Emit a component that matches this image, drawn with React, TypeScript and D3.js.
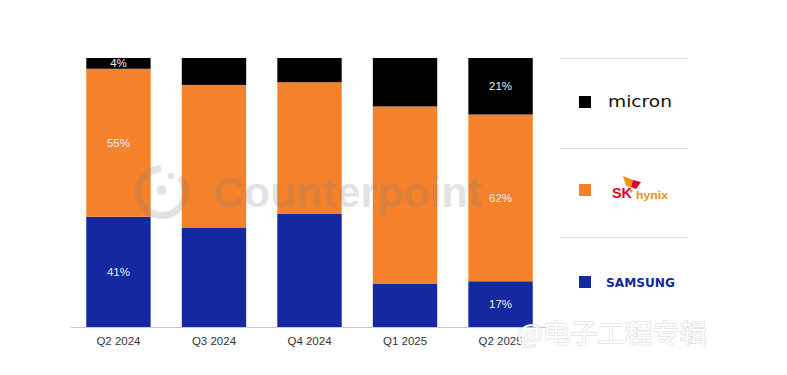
import React from "react";
import * as d3 from "d3";

const categories = ["Q2 2024", "Q3 2024", "Q4 2024", "Q1 2025", "Q2 2025"];
const samsung = [41, 37, 42, 16, 17];
const skHynix = [55, 53, 49, 66, 62];
const micron = [4, 10, 9, 18, 21];
const seriesKeys = ["samsung", "skHynix", "micron"];
const seriesColors = ["#1428A0", "#F5822A", "#000000"];
// which segment labels are shown: [categoryIndex, seriesKey]
const shownLabels: [number, string][] = [
  [0, "samsung"], [0, "skHynix"], [0, "micron"],
  [4, "samsung"], [4, "skHynix"], [4, "micron"],
];

const W = 787, H = 375;

export default function App() {
  const rows = categories.map((c, i) => ({
    cat: c, samsung: samsung[i], skHynix: skHynix[i], micron: micron[i],
  }));
  const stack = d3.stack<any>().keys(seriesKeys)(rows);
  const x = d3.scaleBand().domain(categories).range([70.5, 548.5]).paddingInner(0.326).paddingOuter(0.165);
  const y = d3.scaleLinear().domain([0, 100]).range([327, 58]);
  const font = "'Liberation Sans', Arial, sans-serif";

  const arc = d3.arc()({ innerRadius: 20, outerRadius: 27, startAngle: Math.PI * 0.28, endAngle: Math.PI * 2 - 0.05 } as any) || "";

  return (
    <svg width={W} height={H} style={{ position: "absolute", left: 0, top: 0, background: "#fff" }}>
      <rect width={W} height={H} fill="#fff" />
      {stack.map((s, si) => (
        <g key={s.key} fill={seriesColors[si]}>
          {s.map((d, i) => (
            <rect key={i} x={x(categories[i])} width={x.bandwidth()} y={y(d[1])} height={y(d[0]) - y(d[1])} />
          ))}
        </g>
      ))}
      {shownLabels.map(([ci, key], k) => {
        const si = seriesKeys.indexOf(key);
        const d = stack[si][ci];
        return (
          <text key={k} x={(x(categories[ci]) as number) + x.bandwidth() / 2} y={(y(d[0]) + y(d[1])) / 2 + 4}
            textAnchor="middle" fill="#f0f0f0" fontFamily={font} fontSize={11.5}>
            {`${d[1] - d[0]}%`}
          </text>
        );
      })}
      <line x1={70.5} x2={548} y1={327.5} y2={327.5} stroke="#c8c8c8" strokeWidth={1} />
      {categories.map((c) => (
        <text key={c} x={(x(c) as number) + x.bandwidth() / 2} y={345} textAnchor="middle" fill="#333"
          fontFamily={font} fontSize={11.5}>{c}</text>
      ))}

      {/* Watermark */}
      <g fill="#808080" opacity={0.22}>
        <path d={arc} transform="translate(162,192)" />
        <circle cx={161.5} cy={190} r={4.8} />
        <circle cx={171} cy={176} r={3.5} />
        <text x={213} y={207} fontFamily={font} fontWeight="bold" fontSize={42} textLength={269} lengthAdjust="spacingAndGlyphs">Counterpoint</text>
      </g>

      {/* Legend */}
      {[58.5, 148.5, 237.5].map((ly) => (
        <line key={ly} x1={560} x2={688} y1={ly} y2={ly} stroke="#dedede" strokeWidth={1} />
      ))}
      <rect x={579} y={96} width={12} height={12} fill="#000" />
      <rect x={579} y={184} width={12} height={12} fill={seriesColors[1]} />
      <rect x={579} y={276} width={12} height={12} fill={seriesColors[0]} />

      <text x={608} y={107} fontFamily="'DejaVu Sans', sans-serif" fontSize={15} fill="#111" textLength={64} lengthAdjust="spacingAndGlyphs">micron</text>

      <g>
        <path d="M623,176 L633,180 L631,187 L626,186 Z" fill="#F39200" />
        <path d="M633,180 L641,182 L636,189 L631,187 Z" fill="#E4002B" />
        <path d="M628,187 L633,191 L631,193 Z" fill="#F39200" />
        <text x={612} y={198} fontFamily={font} fontWeight="bold" fontSize={15} fill="#E4002B" textLength={20} lengthAdjust="spacingAndGlyphs">SK</text>
        <text x={636} y={199} fontFamily={font} fontWeight="bold" fontSize={11.5} fill="#F39200" textLength={32} lengthAdjust="spacingAndGlyphs">hynix</text>
      </g>

      <text x={606} y={287} fontFamily="'DejaVu Sans', sans-serif" fontWeight="bold" fontSize={13} fill="#1428A0" textLength={69} lengthAdjust="spacingAndGlyphs">SAMSUNG</text>

      {/* Weibo watermark */}
      <text x={517} y={343} fontFamily="'Noto Sans CJK SC', sans-serif" fontSize={26} fill="#fff"
        stroke="rgba(170,170,170,0.5)" strokeWidth={1.2} style={{ paintOrder: "stroke" } as any}
        textLength={190} lengthAdjust="spacingAndGlyphs">@电子工程专辑</text>
    </svg>
  );
}
